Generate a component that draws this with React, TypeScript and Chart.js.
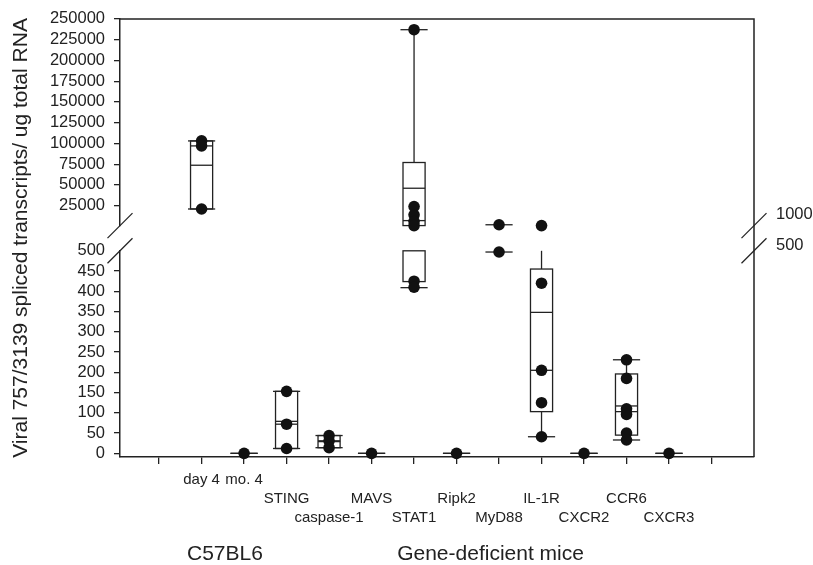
import React, { useEffect, useRef } from 'react';
import { Chart, registerables } from 'chart.js';

Chart.register(...registerables);

// ---------- data ----------
const categories = ['day 4', 'mo. 4', 'STING', 'caspase-1', 'MAVS', 'STAT1', 'Ripk2', 'MyD88', 'IL-1R', 'CXCR2', 'CCR6', 'CXCR3'];

const pointValues: number[][] = [
  [103000, 97000, 21000],
  [0],
  [153, 72, 12],
  [44, 31, 14],
  [0],
  [237000, 24000, 14000, 6000, 1000, 425, 410],
  [0],
  [2000, 497],
  [1000, 420, 205, 125, 41],
  [0],
  [231, 185, 110, 96, 50, 33],
  [0],
];

const boxLow: (number | null)[] = [21000, null, 12, 14, null, 424, null, null, 103, null, 45, null];
const boxHigh: (number | null)[] = [103000, null, 153, 44, null, 77000, null, null, 455, null, 196, null];
const medians: (number | null)[] = [97000, null, 72, 31, null, 7000, null, null, 205, null, 103, null];
const means: (number | null)[] = [73700, null, 79, 29, null, 46000, null, null, 348, null, 117, null];
const whiskerLow: number[] = [21000, 0, 12, 14, 0, 409, 0, 497, 41, 0, 33, 0];
const whiskerHigh: number[] = [103000, 0, 153, 44, 0, 237000, 0, 2000, 800, 0, 231, 0];

const upperTicks = [25000, 50000, 75000, 100000, 125000, 150000, 175000, 200000, 225000, 250000];
const lowerTicks = [0, 50, 100, 150, 200, 250, 300, 350, 400, 450, 500];
const xTickPositions = [1, 2, 3, 4, 5, 6, 7, 8, 9, 10, 11, 12, 13, 14];
const breakLabels = ['1000', '500'];
const groupLabels = ['C57BL6', 'Gene-deficient mice'];
const yTitle = 'Viral 757/3139 spliced transcripts/ ug total RNA';

// ---------- styling ----------
const FAMILY = '"Liberation Sans", Arial, Helvetica, sans-serif';
const INK = '#222222';
const groupCenters = [2.55, 8.8];

const upperPts: { x: number; y: number }[] = [];
const lowerPts: { x: number; y: number }[] = [];
pointValues.forEach((vals, i) =>
  vals.forEach((v) => (v > 500 ? upperPts : lowerPts).push({ x: i + 2, y: v }))
);

const boxPlugin = {
  id: 'boxPlot',
  beforeDatasetsDraw(chart: any) {
    const ctx = chart.ctx;
    const xs = chart.scales.x;
    const segs = [chart.scales.yHigh, chart.scales.yLow];
    ctx.save();
    ctx.strokeStyle = INK;
    ctx.lineWidth = 1.3;
    const hline = (y: number, a: number, b: number) => {
      ctx.beginPath(); ctx.moveTo(a, y); ctx.lineTo(b, y); ctx.stroke();
    };
    const vline = (x: number, a: number, b: number) => {
      ctx.beginPath(); ctx.moveTo(x, a); ctx.lineTo(x, b); ctx.stroke();
    };
    categories.forEach((_, i) => {
      const pos = i + 2;
      const xc = xs.getPixelForValue(pos);
      const bl = xs.getPixelForValue(pos - 0.26);
      const br = xs.getPixelForValue(pos + 0.26);
      const cl = xs.getPixelForValue(pos - 0.32);
      const cr = xs.getPixelForValue(pos + 0.32);
      segs.forEach((s: any) => {
        const lo = s.min, hi = s.max;
        const py = (v: number) => s.getPixelForValue(Math.min(hi, Math.max(lo, v)));
        const inR = (v: number) => v >= lo && v <= hi;
        const q1 = boxLow[i], q3 = boxHigh[i];
        if (q1 != null && q3 != null) {
          if (q3 >= lo && q1 <= hi) {
            const yt = py(q3), yb = py(q1);
            ctx.strokeRect(bl, yt, br - bl, yb - yt);
          }
          [medians[i], means[i]].forEach((v) => {
            if (v != null && inR(v)) hline(py(v), bl, br);
          });
          const wl = whiskerLow[i], wh = whiskerHigh[i];
          if (wl < q1 && q1 >= lo && wl <= hi) vline(xc, py(wl), py(q1));
          if (wh > q3 && wh >= lo && q3 <= hi) vline(xc, py(q3), py(wh));
        }
        [whiskerLow[i], whiskerHigh[i]].forEach((v) => {
          if (inR(v)) hline(py(v), cl, cr);
        });
      });
    });
    ctx.restore();
  },
  afterDraw(chart: any) {
    const ctx = chart.ctx;
    const { left, right, top, bottom } = chart.chartArea;
    const yH = chart.scales.yHigh, yL = chart.scales.yLow, xs = chart.scales.x;
    ctx.save();
    ctx.strokeStyle = INK;
    ctx.lineWidth = 1.5;
    ctx.beginPath();
    ctx.moveTo(left, top);
    ctx.lineTo(right, top);
    ctx.lineTo(right, bottom);
    ctx.stroke();
    ctx.lineWidth = 1.3;
    [left, right].forEach((x) =>
      [yH.bottom, yL.top].forEach((y: number) => {
        ctx.beginPath();
        ctx.moveTo(x - 12.5, y + 12.5);
        ctx.lineTo(x + 12.5, y - 12.5);
        ctx.stroke();
      })
    );
    ctx.fillStyle = INK;
    ctx.font = `16.5px ${FAMILY}`;
    ctx.textAlign = 'left';
    ctx.textBaseline = 'middle';
    ctx.fillText(breakLabels[0], right + 22, yH.bottom - 11.5);
    ctx.fillText(breakLabels[1], right + 22, yL.top - 5.3);

    ctx.font = `21px ${FAMILY}`;
    ctx.textAlign = 'center';
    groupLabels.forEach((t, k) => ctx.fillText(t, xs.getPixelForValue(groupCenters[k]), 554));

    ctx.translate(21.7, (top + bottom) / 2);
    ctx.rotate(-Math.PI / 2);
    ctx.fillText(yTitle, 0, 0);
    ctx.restore();
  },
};

const tickFont = { size: 16.5, family: FAMILY };

export default function App() {
  const ref = useRef<HTMLCanvasElement>(null);
  useEffect(() => {
    const chart = new Chart(ref.current as HTMLCanvasElement, {
      type: 'scatter',
      data: {
        datasets: [
          { data: upperPts, xAxisID: 'x', yAxisID: 'yHigh', pointRadius: 5.8, pointHoverRadius: 5.8, backgroundColor: '#111', borderWidth: 0, clip: false } as any,
          { data: lowerPts, xAxisID: 'x', yAxisID: 'yLow', pointRadius: 5.8, pointHoverRadius: 5.8, backgroundColor: '#111', borderWidth: 0, clip: false } as any,
        ],
      },
      options: {
        animation: false,
        responsive: false,
        devicePixelRatio: 1,
        events: [],
        layout: { padding: { left: 0, top: 14, right: 59, bottom: 0 } },
        plugins: { legend: { display: false }, tooltip: { enabled: false } },
        scales: {
          x: {
            type: 'linear',
            min: 0.08,
            max: 15,
            offset: false,
            afterBuildTicks: (s: any) => { s.ticks = xTickPositions.map((v) => ({ value: v })); },
            afterFit: (s: any) => { s.height = 108; },
            grid: { drawOnChartArea: false, drawTicks: true, tickLength: 7, color: INK, lineWidth: 1.3 },
            border: { color: INK, width: 1.5 },
            ticks: {
              autoSkip: false,
              maxRotation: 0,
              minRotation: 0,
              padding: 6.5,
              color: INK,
              font: { size: 15, family: FAMILY, lineHeight: '19px' } as any,
              callback: (v: any) => {
                const i = Number(v) - 2;
                const name = categories[i];
                if (!name) return '';
                if (i < 2) return name;
                return i % 2 === 0 ? ['', name] : ['', '', name];
              },
            },
          },
          yLow: {
            type: 'linear',
            position: 'left',
            stack: 'v',
            stackWeight: 208.5,
            min: -9,
            max: 500,
            offset: false,
            afterBuildTicks: (s: any) => { s.ticks = lowerTicks.map((v) => ({ value: v })); },
            afterFit: (s: any) => { s.width = 120; },
            grid: {
              drawOnChartArea: false, drawTicks: true, tickLength: 6, color: INK, lineWidth: 1.3,
              tickColor: (c: any) => (c.tick && c.tick.value === 500 ? 'rgba(0,0,0,0)' : INK),
            },
            border: { color: INK, width: 1.5 },
            ticks: { autoSkip: false, color: INK, padding: 9, font: tickFont, callback: (v: any) => String(v) },
          },
          yGap: {
            type: 'linear',
            position: 'left',
            stack: 'v',
            stackWeight: 25.5,
            min: 500,
            max: 1000,
            offset: false,
            afterFit: (s: any) => { s.width = 120; },
            grid: { display: false },
            border: { display: false },
            ticks: { display: false },
          },
          yHigh: {
            type: 'linear',
            position: 'left',
            stack: 'v',
            stackWeight: 209,
            min: 1000,
            max: 250000,
            offset: false,
            afterBuildTicks: (s: any) => { s.ticks = upperTicks.map((v) => ({ value: v })); },
            afterFit: (s: any) => { s.width = 120; },
            grid: { drawOnChartArea: false, drawTicks: true, tickLength: 6, color: INK, lineWidth: 1.3 },
            border: { color: INK, width: 1.5 },
            ticks: { autoSkip: false, color: INK, padding: 9, font: tickFont, callback: (v: any) => String(v) },
          },
        } as any,
      },
      plugins: [boxPlugin],
    } as any);
    return () => chart.destroy();
  }, []);
  return (
    <div style={{ position: 'absolute', left: 0, top: 0, width: 813, height: 565, background: '#fff' }}>
      <canvas ref={ref} width={813} height={565} style={{ width: 813, height: 565, display: 'block' }} />
    </div>
  );
}
